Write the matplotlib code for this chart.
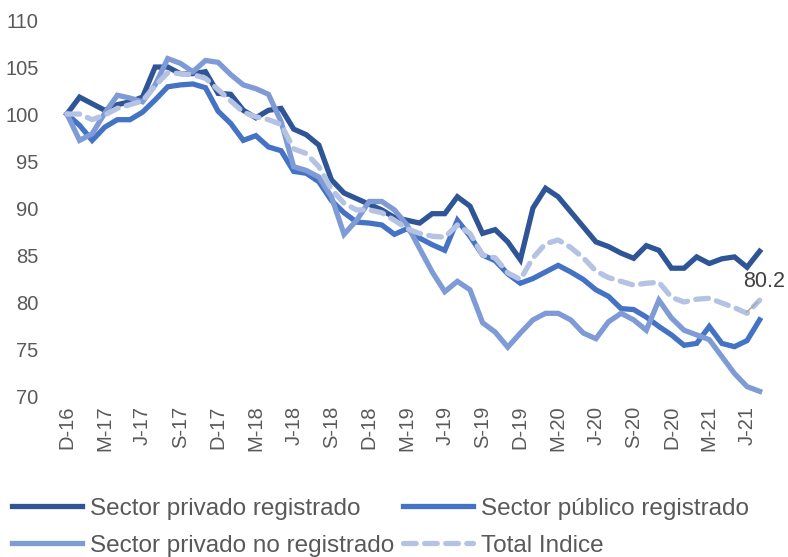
import matplotlib
matplotlib.use("Agg")
import matplotlib.pyplot as plt
import numpy as np

plt.rcParams['font.family'] = ['Liberation Sans', 'DejaVu Sans']

# monthly index, Dec-16 = 100 (Dec 2016 .. Jul 2021)
privado_registrado = [
    100.0, 101.8, 101.1, 100.4, 101.0, 101.3, 101.8, 105.0, 105.0, 104.3,
    104.3, 104.5, 102.2, 102.1, 100.4, 99.6, 100.4, 100.6, 98.4, 97.8,
    96.7, 93.0, 91.6, 91.0, 90.4, 89.8, 89.0, 88.7, 88.4, 89.4,
    89.4, 91.2, 90.2, 87.3, 87.7, 86.4, 84.5, 90.0, 92.1, 91.2,
    89.6, 88.0, 86.4, 85.9, 85.2, 84.65, 86.0, 85.5, 83.6, 83.6,
    84.8, 84.1, 84.6, 84.8, 83.7, 85.4,
]
publico_registrado = [
    100.0, 98.8, 97.2, 98.6, 99.4, 99.4, 100.2, 101.5, 102.9, 103.1,
    103.2, 102.8, 100.3, 99.0, 97.2, 97.7, 96.5, 96.1, 93.9, 93.7,
    92.8, 90.8, 89.5, 88.5, 88.4, 88.2, 87.2, 87.8, 86.8, 86.1,
    85.5, 88.7, 87.0, 85.0, 84.4, 83.0, 82.0, 82.5, 83.2, 83.9,
    83.2, 82.4, 81.3, 80.6, 79.3, 79.2, 78.4, 77.4, 76.5, 75.4,
    75.6, 77.4, 75.6, 75.25, 75.9, 78.1,
]
privado_no_registrado = [
    100.0, 97.2, 97.9, 100.1, 102.0, 101.7, 101.3, 103.1, 105.9, 105.4,
    104.5, 105.7, 105.5, 104.2, 103.1, 102.7, 102.1, 99.2, 94.4, 94.0,
    93.3, 91.2, 87.2, 88.7, 90.7, 90.7, 89.8, 88.2, 85.7, 83.2,
    81.1, 82.2, 81.3, 77.8, 76.8, 75.2, 76.7, 78.1, 78.8, 78.8,
    78.1, 76.7, 76.1, 77.9, 78.8, 78.1, 77.0, 80.2, 78.3, 77.0,
    76.5, 76.0, 74.2, 72.4, 71.0, 70.5,
]
total_indice = [
    100.0, 100.0, 99.4, 99.9, 100.6, 101.0, 101.4, 103.0, 104.4, 104.3,
    104.2, 103.8, 102.6, 101.4, 100.2, 99.7, 99.4, 98.9, 96.3, 95.8,
    94.4, 92.0, 90.5, 89.8, 89.8, 89.5, 88.7, 87.8, 87.3, 87.0,
    86.9, 88.2, 87.3, 85.0, 84.7, 83.1, 82.4, 84.7, 86.2, 86.6,
    85.8, 84.7, 83.3, 82.6, 82.2, 81.8, 82.0, 82.1, 80.5, 80.0,
    80.3, 80.4, 79.9, 79.4, 78.8, 80.2,
]
tick_labels = ['D-16', 'M-17', 'J-17', 'S-17', 'D-17', 'M-18', 'J-18', 'S-18',
               'D-18', 'M-19', 'J-19', 'S-19', 'D-19', 'M-20', 'J-20', 'S-20',
               'D-20', 'M-21', 'J-21']

x = np.arange(len(total_indice))
gray = '#595959'

fig = plt.figure(figsize=(7.88, 5.57), dpi=100)
ax = fig.add_axes([0.077, 0.289, 0.895, 0.675])

lw = 3.8
l1, = ax.plot(x, privado_registrado, color='#2F5597', lw=lw, solid_joinstyle='miter',
              label='Sector privado registrado')
l2, = ax.plot(x, publico_registrado, color='#4472C4', lw=lw, solid_joinstyle='miter',
              label='Sector público registrado')
l3, = ax.plot(x, privado_no_registrado, color='#7F9BD6', lw=lw, solid_joinstyle='miter',
              label='Sector privado no registrado')
l4, = ax.plot(x, total_indice, color='#B4C2E3', lw=lw, dashes=(2.4, 1.6),
              dash_capstyle='round', label='Total Indice')

# label on last total value
ax.annotate('', xy=(x[-1], total_indice[-1]), xytext=(-11, -10), textcoords='offset points',
            arrowprops=dict(arrowstyle='-', color='#A6A6A6', lw=1))
ax.annotate(f'{total_indice[-1]:.1f}', xy=(x[-1], total_indice[-1]), xytext=(3, 6),
            textcoords='offset points', ha='center', va='bottom', fontsize=15.5, color='#404040')

ax.set_xlim(-0.5, len(x) - 0.5)
ax.set_ylim(70, 110)
ax.set_yticks(np.arange(70, 111, 5))
ax.set_xticks(x[::3])
ax.set_xticklabels(tick_labels, rotation=90)
ax.tick_params(axis='y', length=0, pad=16, labelsize=14.5, labelcolor=gray)
ax.tick_params(axis='x', length=0, pad=7, labelsize=14.5, labelcolor=gray)
for s in ax.spines.values():
    s.set_visible(False)

fig.legend([l1, l3, l2, l4], [l.get_label() for l in (l1, l3, l2, l4)],
           ncol=2, loc='lower left', bbox_to_anchor=(0.015, 0.0), frameon=False,
           fontsize=17.5, labelcolor=gray, handlelength=2.9, handletextpad=0.33,
           columnspacing=0.33, labelspacing=0.62, borderaxespad=0.0, borderpad=0.0)

fig.savefig('out.png', dpi=100)
